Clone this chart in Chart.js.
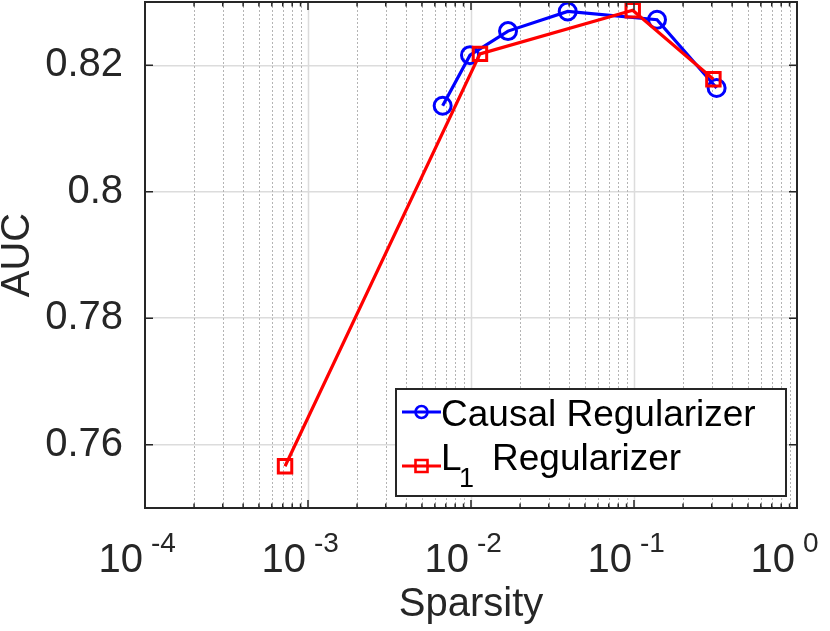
<!DOCTYPE html>
<html>
<head>
<meta charset="utf-8">
<title>AUC vs Sparsity</title>
<script src="https://cdn.jsdelivr.net/npm/chart.js@4.4.0/dist/chart.umd.min.js"></script>
<style>
    body { margin: 0; background: #fff; }
    #wrap { width: 830px; height: 631px; position: relative; }
</style>
</head>
<body>
<div id="wrap"><canvas id="aucChart"></canvas></div>
<script>
// Causal Regularizer
let causalSparsity = [0.0067, 0.00986, 0.01687, 0.0392, 0.1384, 0.3213];
let causalAuc = [0.8136, 0.8216, 0.8254, 0.8285, 0.8272, 0.8164];

// L1 Regularizer
let l1Sparsity = [0.000723, 0.01135, 0.0982, 0.307];
let l1Auc = [0.7566, 0.8218, 0.8287, 0.8178];

let yTicks = [0.76, 0.78, 0.8, 0.82];
let xDecades = [-4, -3, -2, -1, 0];
let causalLabel = "Causal Regularizer";
let l1Label = ["L", "1", "Regularizer"];   // L with subscript 1

const fontName = "'Liberation Sans', Arial, sans-serif";
const ink = "#262626";

function toPoints(xs, ys) {
    return xs.map((v, i) => ({ x: v, y: ys[i] }));
}

// matlab-style box, ticks, log grid, superscript labels and legend
const matlabAxes = {
    id: "matlabAxes",
    beforeDatasetsDraw(chart) {
        const { ctx, chartArea: a, scales: { x } } = chart;
        ctx.save();
        xDecades.forEach(d => {
            for (let m = 1; m <= 9; m++) {
                let v = m * Math.pow(10, d);
                if (v <= x.min * 1.0001 || v >= x.max * 0.9999) continue;
                let px = Math.round(x.getPixelForValue(v)) + 0.5;
                ctx.beginPath();
                if (m === 1) {
                    ctx.strokeStyle = "#dcdcdc";
                    ctx.lineWidth = 1.5;
                    ctx.setLineDash([]);
                } else {
                    ctx.strokeStyle = "#b4b4b4";
                    ctx.lineWidth = 1;
                    ctx.setLineDash([2, 2]);
                }
                ctx.moveTo(px, a.top);
                ctx.lineTo(px, a.bottom);
                ctx.stroke();
            }
        });
        ctx.restore();
    },
    afterDatasetsDraw(chart) {
        const { ctx, chartArea: a, scales: { x, y } } = chart;
        ctx.save();
        ctx.strokeStyle = ink;
        ctx.lineWidth = 1.5;
        ctx.setLineDash([]);

        // y ticks, left and right, inward
        yTicks.forEach(t => {
            let py = y.getPixelForValue(t);
            ctx.beginPath();
            ctx.moveTo(a.left, py); ctx.lineTo(a.left + 8, py);
            ctx.moveTo(a.right, py); ctx.lineTo(a.right - 8, py);
            ctx.stroke();
        });

        // x ticks, bottom and top, inward
        xDecades.forEach(d => {
            for (let m = 1; m <= 9; m++) {
                let v = m * Math.pow(10, d);
                if (v > x.max * 1.0001) continue;
                let px = x.getPixelForValue(v);
                let len = m === 1 ? 8 : 4.5;
                ctx.beginPath();
                ctx.moveTo(px, a.bottom); ctx.lineTo(px, a.bottom - len);
                ctx.moveTo(px, a.top); ctx.lineTo(px, a.top + len);
                ctx.stroke();
            }
        });

        // box
        ctx.lineWidth = 2;
        ctx.strokeRect(a.left, a.top, a.right - a.left, a.bottom - a.top);
        ctx.restore();
    },
    afterDraw(chart) {
        const { ctx, scales: { x } } = chart;
        ctx.save();
        ctx.fillStyle = ink;
        ctx.textBaseline = "alphabetic";
        ctx.textAlign = "left";

        // 10^k labels
        xDecades.forEach(d => {
            let px = x.getPixelForValue(Math.pow(10, d));
            ctx.font = "40px " + fontName;
            ctx.fillText("10", px - 46.5, 572);
            ctx.font = "28px " + fontName;
            ctx.fillText(String(d), px + 6, 552);
        });

        // legend
        let bx = 396, by = 389, bw = 390, bh = 107;
        ctx.fillStyle = "#fff";
        ctx.fillRect(bx, by, bw, bh);
        ctx.strokeStyle = ink;
        ctx.lineWidth = 2;
        ctx.strokeRect(bx, by, bw, bh);

        let sets = chart.data.datasets;
        let rows = [412, 466];
        rows.forEach((ry, i) => {
            let ds = sets[i];
            ctx.strokeStyle = ds.borderColor;
            ctx.lineWidth = 3;
            ctx.beginPath();
            ctx.moveTo(402, ry); ctx.lineTo(441, ry);
            ctx.stroke();
            ctx.lineWidth = 2.6;
            ctx.beginPath();
            if (ds.pointStyle === "circle") {
                ctx.arc(421.5, ry, 6, 0, Math.PI * 2);
            } else {
                ctx.rect(415.5, ry - 6, 12, 12);
            }
            ctx.stroke();
        });

        ctx.fillStyle = "#000";
        ctx.font = "37px " + fontName;
        ctx.fillText(causalLabel, 441, 426);
        ctx.fillText(l1Label[0], 441, 470);
        ctx.fillText(l1Label[2], 492, 470);
        ctx.font = "27px " + fontName;
        ctx.fillText(l1Label[1], 459, 487);
        ctx.restore();
    }
};

const ctx = document.getElementById("aucChart").getContext("2d");

new Chart(ctx, {
    type: "line",
    data: {
        datasets: [{
            label: causalLabel,
            data: toPoints(causalSparsity, causalAuc),
            borderColor: "#0000ff",
            borderWidth: 3.2,
            pointStyle: "circle",
            pointRadius: 8.5,
            pointBorderWidth: 3,
            pointBorderColor: "#0000ff",
            pointBackgroundColor: "rgba(0,0,0,0)",
            tension: 0,
            clip: false,
            order: 1
        }, {
            label: l1Label.join(""),
            data: toPoints(l1Sparsity, l1Auc),
            borderColor: "#ff0000",
            borderWidth: 3.2,
            pointStyle: "rect",
            pointRadius: 9.5,
            pointBorderWidth: 3,
            pointBorderColor: "#ff0000",
            pointBackgroundColor: "rgba(0,0,0,0)",
            tension: 0,
            clip: false,
            order: 0
        }]
    },
    options: {
        responsive: true,
        maintainAspectRatio: false,
        animation: false,
        events: [],
        layout: {
            autoPadding: false,
            padding: { top: 2, right: 33, bottom: 0, left: 0 }
        },
        plugins: {
            legend: { display: false },
            tooltip: { enabled: false }
        },
        scales: {
            x: {
                type: "logarithmic",
                position: "bottom",
                min: 1e-4,
                max: 1,
                ticks: { display: false },
                grid: { display: false },
                border: { display: false },
                title: {
                    display: true,
                    text: "Sparsity",
                    color: ink,
                    font: { family: fontName, size: 40 },
                    padding: { top: 0, bottom: 2 }
                },
                afterFit: s => {
                    s.height = 123;
                    s.paddingLeft = 0; s.paddingRight = 0;
                }
            },
            y: {
                type: "linear",
                min: 0.75,
                max: 0.83,
                afterBuildTicks: s => { s.ticks = yTicks.map(v => ({ value: v })); },
                ticks: {
                    padding: 22,
                    color: ink,
                    font: { family: fontName, size: 40 },
                    callback: v => String(+v.toFixed(2))
                },
                grid: {
                    color: "#dcdcdc",
                    lineWidth: 1.5,
                    drawTicks: false
                },
                border: { display: false },
                title: {
                    display: true,
                    text: "AUC",
                    color: ink,
                    font: { family: fontName, size: 40 },
                    padding: { top: -6, bottom: 0 }
                },
                afterFit: s => {
                    s.width = 145;
                    s.paddingTop = 0; s.paddingBottom = 0;
                }
            }
        }
    },
    plugins: [matlabAxes]
});
</script>
</body>
</html>
